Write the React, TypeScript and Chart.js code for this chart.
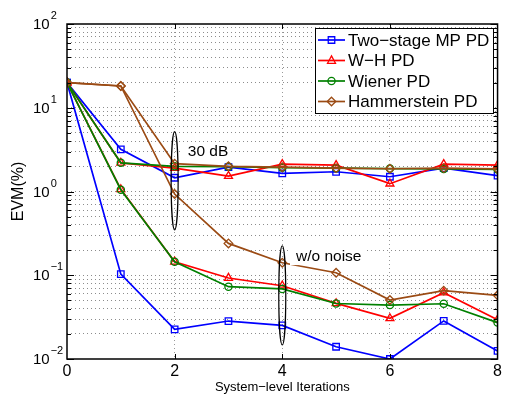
import { useEffect, useRef } from "react";
import { Chart, registerables } from "chart.js";

Chart.register(...registerables);

// ---- data ----
const iterations = [0, 1, 2, 3, 4, 5, 6, 7, 8];
const seriesNames = ["Two\u2212stage MP PD", "W\u2212H PD", "Wiener PD", "Hammerstein PD"];
const seriesColors = ["#0000ff", "#ff0000", "#008000", "rgb(155,75,20)"];
const seriesMarkers = ["rect", "triangle", "circle", "rectRot"];
const markerRadius = [4.6, 4.6, 3.6, 4.3];

const twoStage30dB = [20, 3.19, 1.46, 1.95, 1.65, 1.72, 1.5, 1.9, 1.55];
const twoStageNoNoise = [20, 0.103, 0.0226, 0.0284, 0.0252, 0.014, 0.01, 0.0285, 0.0125];
const wh30dB = [20, 2.2, 1.9, 1.53, 2.12, 2.06, 1.24, 2.12, 2.06];
const whNoNoise = [20, 1.06, 0.145, 0.0927, 0.075, 0.0462, 0.0306, 0.062, 0.0295];
const wiener30dB = [20, 2.2, 2.0, 1.98, 1.92, 1.9, 1.88, 1.86, 1.83];
const wienerNoNoise = [20, 1.05, 0.145, 0.073, 0.0686, 0.046, 0.0441, 0.0457, 0.0272];
const hammer30dB = [20, 18.2, 2.15, 2.0, 1.95, 1.9, 1.87, 1.9, 1.86];
const hammerNoNoise = [20, 18.2, 0.933, 0.24, 0.141, 0.107, 0.0506, 0.0655, 0.0576];

const yTickExponents = [2, 1, 0, -1, -2];
const yTickExpLabels = ["2", "1", "0", "\u22121", "\u22122"];
const xTitle = "System\u2212level Iterations";
const yTitle = "EVM(%)";

// annotations (data units)
const ellipseX = [2, 4];
const ellipseTop = [5.18, 0.225];
const ellipseBottom = [0.347, 0.0147];
const noteText = ["30 dB", "w/o noise"];
const noteX = [2.245, 4.255];
const noteY = [2.99, 0.167];

const FONT = '"Liberation Sans", Arial, Helvetica, sans-serif';

const yGridValues: number[] = [];
for (let e = -2; e < 2; e++) for (let m = 1; m <= 9; m++) yGridValues.push(m * Math.pow(10, e));
yGridValues.push(100);

function pts(arr: number[]) {
  return iterations.map((x, i) => ({ x, y: arr[i] }));
}

function drawMarker(ctx: CanvasRenderingContext2D, style: string, x: number, y: number, r: number) {
  ctx.beginPath();
  if (style === "rect") {
    const s = Math.SQRT1_2 * r;
    ctx.rect(x - s, y - s, 2 * s, 2 * s);
  } else if (style === "triangle") {
    ctx.moveTo(x, y - r);
    ctx.lineTo(x + r * 0.866, y + r * 0.5 + 0.5);
    ctx.lineTo(x - r * 0.866, y + r * 0.5 + 0.5);
    ctx.closePath();
  } else if (style === "circle") {
    ctx.arc(x, y, r, 0, Math.PI * 2);
  } else {
    ctx.moveTo(x, y - r);
    ctx.lineTo(x + r, y);
    ctx.lineTo(x, y + r);
    ctx.lineTo(x - r, y);
    ctx.closePath();
  }
  ctx.stroke();
}

const framePlugin = {
  id: "frame",
  afterDatasetsDraw(chart: any) {
    const { ctx, chartArea: a, scales } = chart;
    const xs = scales.x;
    const ys = scales.y;
    ctx.save();

    // annotation texts with white background
    ctx.font = `15.5px ${FONT}`;
    ctx.textBaseline = "middle";
    ctx.textAlign = "left";
    noteText.forEach((t, i) => {
      const px = xs.getPixelForValue(noteX[i]);
      const py = ys.getPixelForValue(noteY[i]);
      const w = ctx.measureText(t).width;
      ctx.fillStyle = "#fff";
      ctx.fillRect(px - 6, py - 9, w + 9, 17.5);
      ctx.fillStyle = "#000";
      ctx.fillText(t, px, py);
    });

    // ellipses
    ctx.strokeStyle = "#000";
    ctx.lineWidth = 1.2;
    ellipseX.forEach((xv, i) => {
      const cx = xs.getPixelForValue(xv);
      const y1 = ys.getPixelForValue(ellipseTop[i]);
      const y2 = ys.getPixelForValue(ellipseBottom[i]);
      ctx.beginPath();
      ctx.ellipse(cx, (y1 + y2) / 2, 3.5, (y2 - y1) / 2, 0, 0, Math.PI * 2);
      ctx.stroke();
    });

    // axes box
    ctx.strokeStyle = "#000";
    ctx.lineWidth = 1.5;
    ctx.strokeRect(a.left, a.top, a.right - a.left, a.bottom - a.top);

    // tick marks (inward)
    ctx.lineWidth = 1;
    ctx.beginPath();
    yGridValues.forEach((v) => {
      const py = Math.round(ys.getPixelForValue(v)) + 0.5;
      const major = Math.abs(Math.log10(v) - Math.round(Math.log10(v))) < 1e-9;
      const len = major ? 7 : 4;
      ctx.moveTo(a.left, py);
      ctx.lineTo(a.left + len, py);
      ctx.moveTo(a.right, py);
      ctx.lineTo(a.right - len, py);
    });
    [2, 4, 6].forEach((v) => {
      const px = Math.round(xs.getPixelForValue(v)) + 0.5;
      ctx.moveTo(px, a.bottom);
      ctx.lineTo(px, a.bottom - 5);
      ctx.moveTo(px, a.top);
      ctx.lineTo(px, a.top + 5);
    });
    ctx.stroke();

    // y tick labels 10^n
    ctx.fillStyle = "#000";
    ctx.textAlign = "left";
    ctx.textBaseline = "middle";
    yTickExponents.forEach((e, i) => {
      const py = ys.getPixelForValue(Math.pow(10, e));
      ctx.font = `15px ${FONT}`;
      ctx.fillText("10", 33, py + 1);
      const w = ctx.measureText("10").width;
      ctx.font = `11px ${FONT}`;
      ctx.fillText(yTickExpLabels[i], 33 + w + 1, py - 8);
    });

    // legend
    const lx = 315, ly = 28, lw = 178, lh = 85;
    ctx.fillStyle = "#fff";
    ctx.fillRect(lx, ly, lw, lh);
    ctx.strokeStyle = "#000";
    ctx.lineWidth = 1;
    ctx.strokeRect(lx + 0.5, ly + 0.5, lw, lh);
    ctx.font = `17px ${FONT}`;
    seriesNames.forEach((name, i) => {
      const cy = ly + 12 + i * 20.5;
      ctx.strokeStyle = seriesColors[i];
      ctx.lineWidth = 1.7;
      ctx.beginPath();
      ctx.moveTo(318, cy);
      ctx.lineTo(345, cy);
      ctx.stroke();
      ctx.lineWidth = 1.3;
      drawMarker(ctx, seriesMarkers[i], 331.5, cy, markerRadius[i]);
      ctx.fillStyle = "#000";
      ctx.fillText(name, 348, cy + 1);
    });

    ctx.restore();
  },
};

function makeDataset(data: number[], idx: number) {
  return {
    label: seriesNames[idx],
    data: pts(data),
    borderColor: seriesColors[idx],
    backgroundColor: "rgba(0,0,0,0)",
    borderWidth: 1.7,
    pointStyle: seriesMarkers[idx],
    pointRadius: markerRadius[idx],
    pointBorderWidth: 1.3,
    pointBackgroundColor: "rgba(0,0,0,0)",
    pointBorderColor: seriesColors[idx],
    tension: 0,
    fill: false,
  };
}

export default function App() {
  const ref = useRef<HTMLCanvasElement | null>(null);
  useEffect(() => {
    if (!ref.current) return;
    const chart = new Chart(ref.current, {
      type: "line",
      data: {
        datasets: [
          makeDataset(hammer30dB, 3),
          makeDataset(hammerNoNoise, 3),
          makeDataset(wiener30dB, 2),
          makeDataset(wienerNoNoise, 2),
          makeDataset(wh30dB, 1),
          makeDataset(whNoNoise, 1),
          makeDataset(twoStage30dB, 0),
          makeDataset(twoStageNoNoise, 0),
        ] as any,
      },
      options: {
        animation: false,
        responsive: false,
        devicePixelRatio: 1,
        layout: { padding: { top: 24, right: 6, left: 0, bottom: 0 } },
        plugins: { legend: { display: false }, tooltip: { enabled: false } },
        scales: {
          x: {
            type: "linear",
            min: 0,
            max: 8,
            afterFit: (s: any) => {
              s.height = 35;
            },
            ticks: {
              stepSize: 2,
              color: "#000",
              padding: 3,
              font: { size: 16, family: FONT },
            },
            grid: {
              drawTicks: false,
              color: (c: any) =>
                c.tick && (c.tick.value === 0 || c.tick.value === 8) ? "rgba(0,0,0,0)" : "rgba(0,0,0,0.4)",
              lineWidth: 1,
            },
            border: { display: false, dash: [1, 3] },
            title: {
              display: true,
              text: xTitle,
              color: "#000",
              font: { size: 13, family: FONT },
              padding: { top: 0, bottom: -1 },
            },
          },
          y: {
            type: "logarithmic",
            min: 0.01,
            max: 100,
            afterFit: (s: any) => {
              s.width = 67;
            },
            afterBuildTicks: (s: any) => {
              s.ticks = yGridValues.map((v) => ({ value: v }));
            },
            ticks: { display: false, autoSkip: false },
            grid: {
              drawTicks: false,
              color: (c: any) =>
                c.tick && (Math.abs(c.tick.value - 100) < 1e-9 || Math.abs(c.tick.value - 0.01) < 1e-12)
                  ? "rgba(0,0,0,0)"
                  : "rgba(0,0,0,0.45)",
              lineWidth: 1,
            },
            border: { display: false, dash: [1, 3] },
            title: {
              display: true,
              text: yTitle,
              color: "#000",
              font: { size: 16, family: FONT },
              padding: { top: 9, bottom: 0 },
            },
          },
        },
      },
      plugins: [framePlugin],
    });
    return () => chart.destroy();
  }, []);
  return (
    <div style={{ position: "absolute", left: 0, top: 0, width: 505, height: 394, background: "#fff" }}>
      <canvas ref={ref} width={505} height={394} style={{ display: "block" }} />
    </div>
  );
}
